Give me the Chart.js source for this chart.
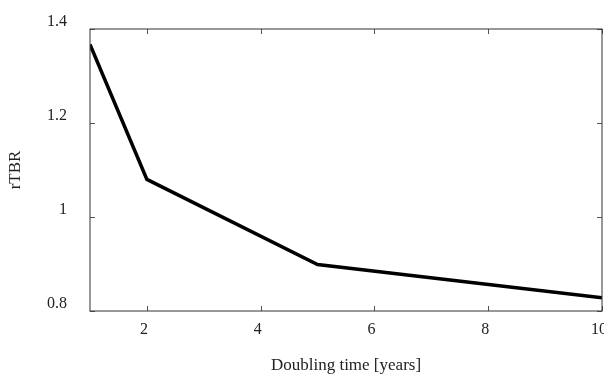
<!DOCTYPE html>
<html>
<head>
<meta charset="utf-8">
<script src="https://cdn.jsdelivr.net/npm/chart.js@4"></script>
<style>
  html, body { margin: 0; padding: 0; background: #fff; }
  #wrap { width: 604px; height: 376px; }
</style>
</head>
<body>
<div id="wrap"><canvas id="grafico"></canvas></div>
<script>
const doublingTime = [1, 2, 5, 10];
const rTBR = [1.367, 1.080, 0.899, 0.828];
const xTicks = [2, 4, 6, 8, 10];
const yTicks = [0.8, 1, 1.2, 1.4];

// inward tick marks on all four sides, like the original plot
const innerTicks = {
    id: 'innerTicks',
    afterDatasetsDraw(chart) {
        const { ctx, chartArea: a, scales: { x, y } } = chart;
        ctx.save();
        ctx.strokeStyle = '#555';
        ctx.lineWidth = 1;
        ctx.beginPath();
        xTicks.forEach(v => {
            const px = Math.round(x.getPixelForValue(v)) + 0.5;
            ctx.moveTo(px, a.bottom); ctx.lineTo(px, a.bottom - 5);
            ctx.moveTo(px, a.top); ctx.lineTo(px, a.top + 5);
        });
        yTicks.forEach(v => {
            const py = Math.round(y.getPixelForValue(v)) + 0.5;
            ctx.moveTo(a.left, py); ctx.lineTo(a.left + 5, py);
            ctx.moveTo(a.right, py); ctx.lineTo(a.right - 5, py);
        });
        ctx.stroke();
        ctx.strokeStyle = '#333';
        ctx.strokeRect(a.left, a.top, a.right - a.left, a.bottom - a.top);
        ctx.restore();
    }
};

const tickFont = { family: "'Liberation Serif', 'DejaVu Serif', serif", size: 16 };
const titleFont = { family: "'Liberation Serif', 'DejaVu Serif', serif", size: 17 };

new Chart(document.getElementById('grafico'), {
    type: 'line',
    data: {
        datasets: [{
            data: doublingTime.map((t, i) => ({ x: t, y: rTBR[i] })),
            borderColor: '#000',
            borderWidth: 3.5,
            pointRadius: 0,
            tension: 0,
            fill: false
        }]
    },
    options: {
        responsive: true,
        maintainAspectRatio: false,
        animation: false,
        layout: { padding: { top: 29, right: 2, left: 0, bottom: 0 } },
        plugins: {
            legend: { display: false },
            tooltip: { enabled: false }
        },
        scales: {
            x: {
                type: 'linear',
                min: 1,
                max: 10,
                afterBuildTicks: s => { s.ticks = xTicks.map(v => ({ value: v })); },
                afterFit: s => { s.height = 65; s.paddingLeft = 0; s.paddingRight = 0; },
                border: { display: false },
                grid: { display: false },
                ticks: { color: '#222', font: tickFont, padding: 1, labelOffset: -3, maxRotation: 0 },
                title: { display: true, text: 'Doubling time [years]', color: '#222', font: titleFont, padding: { top: 14, bottom: 0 } }
            },
            y: {
                min: 0.8,
                max: 1.4,
                afterBuildTicks: s => { s.ticks = yTicks.map(v => ({ value: v })); },
                afterFit: s => { s.width = 90; s.paddingTop = 0; s.paddingBottom = 0; },
                border: { display: false },
                grid: { display: false },
                ticks: { color: '#222', font: tickFont, padding: 15, labelOffset: -7, callback: v => String(v) },
                title: { display: true, text: 'rTBR', color: '#222', font: titleFont, padding: { top: 5, bottom: 0 } }
            }
        }
    },
    plugins: [innerTicks]
});
</script>
</body>
</html>
